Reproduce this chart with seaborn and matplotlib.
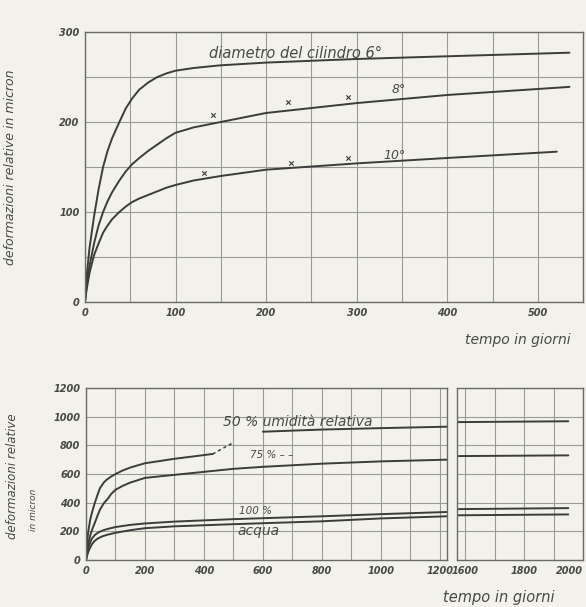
import matplotlib
matplotlib.use("Agg")
import matplotlib.pyplot as plt
import seaborn as sns
import pandas as pd

# ---------------- data ----------------
# upper chart: deformation vs time (days)
top_days_6 = [0, 2, 5, 10, 15, 20, 25, 30, 38, 45, 52, 60, 70, 80, 90, 100, 120, 150, 200, 300, 400, 535]
top_vals_6 = [0, 30, 60, 95, 125, 150, 168, 182, 200, 215, 226, 236, 244, 250, 254, 257, 260, 263, 266, 270, 273, 277]
top_days_8 = [0, 2, 5, 10, 15, 20, 25, 30, 38, 45, 52, 60, 70, 80, 90, 100, 120, 150, 200, 300, 400, 535]
top_vals_8 = [0, 20, 40, 65, 85, 100, 112, 122, 135, 145, 153, 160, 168, 175, 182, 188, 194, 200, 210, 221, 230, 239]
top_days_10 = [0, 2, 5, 10, 15, 20, 25, 30, 38, 45, 52, 60, 70, 80, 90, 100, 120, 150, 200, 300, 400, 521]
top_vals_10 = [0, 15, 32, 52, 65, 77, 85, 92, 100, 106, 111, 115, 119, 123, 127, 130, 135, 140, 147, 154, 160, 167]
pts8_days = [141, 224, 290]
pts8_vals = [208, 222, 228]
pts10_days = [131, 228, 290]
pts10_vals = [143, 154, 160]
top_xticks = [0, 100, 200, 300, 400, 500]
top_yticks = [0, 100, 200, 300]

# lower chart: relative humidity series
b50_days = [0, 3, 7, 14, 22, 30, 40, 47, 60, 70, 85, 100, 125, 150, 200, 300, 400, 430]
b50_vals = [0, 110, 190, 280, 345, 400, 460, 500, 540, 560, 582, 600, 625, 645, 675, 706, 732, 740]
b50_dash_days = [430, 465, 500]
b50_dash_vals = [740, 780, 818]
b50_flat_days = [600, 800, 1000, 1225]
b50_flat_vals = [895, 910, 920, 930]
b50_late_days = [1573, 1950]
b50_late_vals = [962, 968]

b75_days = [0, 3, 7, 14, 22, 30, 40, 47, 60, 75, 85, 100, 125, 150, 200, 300, 400, 500, 600, 800, 1000, 1225]
b75_vals = [0, 60, 110, 170, 220, 260, 315, 350, 395, 430, 460, 490, 518, 540, 573, 594, 615, 636, 650, 672, 688, 700]
b75_late_days = [1573, 1950]
b75_late_vals = [725, 730]

b100_days = [0, 5, 10, 20, 30, 40, 55, 70, 100, 150, 200, 300, 500, 800, 1000, 1225]
b100_vals = [0, 60, 100, 150, 175, 190, 205, 215, 230, 245, 255, 268, 285, 305, 320, 335]
b100_late_days = [1573, 1950]
b100_late_vals = [355, 362]

bw_days = [0, 5, 10, 20, 30, 40, 55, 70, 100, 150, 200, 300, 500, 800, 1000, 1225]
bw_vals = [0, 40, 70, 110, 135, 150, 165, 175, 190, 208, 222, 235, 250, 270, 290, 305]
bw_late_days = [1573, 1950]
bw_late_vals = [312, 318]

bot_xticks_left = [0, 200, 400, 600, 800, 1000, 1200]
bot_xticks_right = [1600, 1800, 2000]
bot_yticks = [0, 200, 400, 600, 800, 1000, 1200]

# ---------------- style ----------------
sns.set_style("white")
plt.rcParams["font.family"] = ["DejaVu Sans"]
BG = "#f2f1ea"
INK = "#3c3c3a"
GRID = "#9a9a96"
TXT = "#4a4a45"

fig = plt.figure(figsize=(5.86, 6.07), dpi=100, facecolor=BG)

def style_ax(ax):
    ax.set_facecolor(BG)
    for s in ax.spines.values():
        s.set_color("#6a6a66")
        s.set_linewidth(1.0)
    ax.grid(True, color=GRID, linewidth=0.8)
    ax.set_axisbelow(True)
    ax.tick_params(length=0, labelsize=7, labelcolor=TXT, pad=4)
    for lab in ax.get_xticklabels() + ax.get_yticklabels():
        lab.set_style("italic")
        lab.set_fontweight("bold")

def line(ax, d, v, ls="-", lw=1.4):
    df = pd.DataFrame({"d": d, "v": v})
    sns.lineplot(data=df, x="d", y="v", ax=ax, color=INK, linewidth=lw,
                 linestyle=ls, sort=False, legend=False)

# ---------------- top chart ----------------
ax1 = fig.add_axes([0.145, 0.5025, 0.850, 0.4448])
line(ax1, top_days_6, top_vals_6)
line(ax1, top_days_8, top_vals_8)
line(ax1, top_days_10, top_vals_10)
sns.scatterplot(x=pts8_days + pts10_days, y=pts8_vals + pts10_vals, ax=ax1,
                marker="x", s=10, color=INK, linewidth=0.8, legend=False)
ax1.set_xlim(0, 550)
ax1.set_ylim(0, 300)
ax1.set_xticks(range(0, 551, 50))
ax1.set_xticklabels([str(t) if t in top_xticks else "" for t in range(0, 551, 50)])
ax1.set_yticks(range(0, 301, 50))
ax1.set_yticklabels([str(t) if t in top_yticks else "" for t in range(0, 301, 50)])
ax1.set_xlabel("")
ax1.set_ylabel("")
style_ax(ax1)

tkw = dict(color=TXT, style="italic", fontweight="normal")
ax1.text(232, 276, "diametro del cilindro 6°", fontsize=10.5, ha="center", va="center", **tkw)
ax1.text(346, 236, "8°", fontsize=9, ha="center", va="center", **tkw)
ax1.text(342, 163, "10°", fontsize=9, ha="center", va="center", **tkw)
fig.text(0.973, 0.44, "tempo in giorni", fontsize=10, ha="right", va="center", **tkw)
fig.text(0.018, 0.725, "deformazioni relative in micron", fontsize=9, rotation=90,
         ha="center", va="center", **tkw)

# ---------------- bottom chart (broken axis) ----------------
axL = fig.add_axes([0.1468, 0.0774, 0.616, 0.2834])
axR = fig.add_axes([0.780, 0.0774, 0.215, 0.2834])

line(axL, b50_days, b50_vals)
line(axL, b50_dash_days, b50_dash_vals, ls=(0, (2, 2)), lw=1.1)
line(axL, b50_flat_days, b50_flat_vals)
line(axL, b75_days, b75_vals)
line(axL, b100_days, b100_vals)
line(axL, bw_days, bw_vals)
line(axR, b50_late_days, b50_late_vals)
line(axR, b75_late_days, b75_late_vals)
line(axR, b100_late_days, b100_late_vals)
line(axR, bw_late_days, bw_late_vals)

axL.set_xlim(0, 1225)
axR.set_xlim(1573, 2000)
for ax in (axL, axR):
    ax.set_ylim(0, 1200)
    ax.set_yticks(bot_yticks)
    ax.set_xlabel("")
    ax.set_ylabel("")
axL.set_xticks(range(0, 1201, 100))
axL.set_xticklabels([str(t) if t in bot_xticks_left else "" for t in range(0, 1201, 100)])
axR.set_xticks(range(1600, 2001, 100))
axR.set_xticklabels([str(t) if t in bot_xticks_right else "" for t in range(1600, 2001, 100)])
axR.set_yticklabels([])
style_ax(axL)
style_ax(axR)
axR.get_xticklabels()[-1].set_horizontalalignment("right")

axL.text(720, 965, "50 % umidità relativa", fontsize=10, ha="center", va="center", **tkw)
axL.text(555, 730, "75 % – –", fontsize=7.5, ha="left", va="center", **tkw)
axL.text(520, 345, "100 %", fontsize=7.5, ha="left", va="center", **tkw)
axL.text(515, 200, "acqua", fontsize=10, ha="left", va="center", **tkw)
fig.text(0.947, 0.015, "tempo in giorni", fontsize=10.5, ha="right", va="center", **tkw)
fig.text(0.022, 0.215, "deformazioni relative", fontsize=8.5, rotation=90,
         ha="center", va="center", **tkw)
fig.text(0.058, 0.16, "in micron", fontsize=6.5, rotation=90,
         ha="center", va="center", **tkw)

fig.savefig("out.png", dpi=100, facecolor=BG)
